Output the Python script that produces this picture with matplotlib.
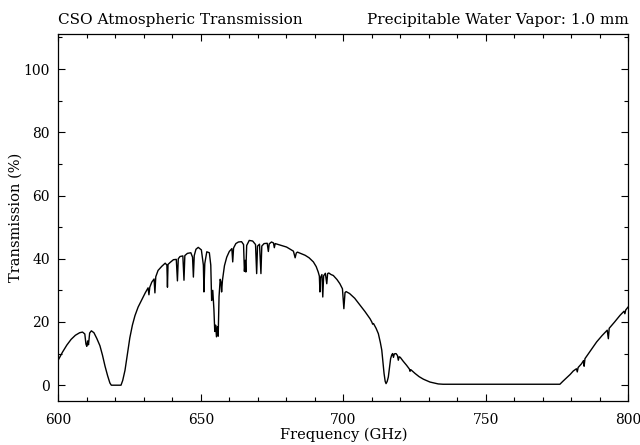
import matplotlib
matplotlib.use("Agg")
import matplotlib.pyplot as plt
from matplotlib.ticker import MultipleLocator

# Atmospheric transmission spectrum, 600-800 GHz, PWV = 1.0 mm
freq_ghz = [
    600.0, 601.5, 603.0, 604.5, 606.0, 607.5, 608.5, 609.3, 609.7, 610.0,
    610.3, 610.6, 611.0, 611.6, 612.5, 613.5, 614.6, 615.5, 616.4, 617.3,
    618.1, 618.6, 622.0, 622.6, 623.4, 624.2, 625.1, 626.0, 626.9, 628.0,
    629.3, 630.5, 631.5, 631.8, 632.1, 632.8, 633.6, 633.9, 634.2, 635.0,
    636.3, 637.5, 638.1, 638.3, 638.5, 639.2, 640.4, 641.4, 641.8, 642.1,
    642.7, 643.7, 644.1, 644.4, 645.3, 646.5, 647.1, 647.4, 647.7, 648.3,
    649.1, 650.2, 650.9, 651.1, 651.4, 652.1, 653.0, 653.5, 653.8, 654.2,
    654.6, 654.9, 655.2, 655.5, 655.8, 656.1, 656.4, 656.8, 657.1, 657.3,
    657.6, 658.3, 659.1, 660.0, 660.9, 661.2, 661.5, 662.3, 663.2, 664.3,
    665.0, 665.3, 665.6, 665.8, 666.1, 667.0, 668.2, 669.2, 669.6, 669.9,
    670.6, 671.1, 671.4, 672.2, 673.3, 673.7, 674.0, 674.8, 675.5, 675.8,
    676.1, 677.2, 680.1, 682.5, 683.1, 683.5, 683.9, 686.6, 688.0, 689.5,
    690.5, 691.2, 691.6, 691.8, 692.0, 692.5, 692.8, 693.1, 693.7, 694.2,
    694.5, 694.9, 695.7, 696.5, 697.8, 698.8, 699.7, 700.2, 700.6, 701.0,
    702.2, 704.0, 705.9, 707.6, 709.4, 710.0, 710.3, 710.6, 711.5, 712.3,
    713.0, 713.5, 714.0, 714.3, 714.7, 715.0, 715.4, 715.8, 716.2, 716.6,
    717.0, 717.3, 717.6, 717.9, 718.5, 719.0, 719.3, 719.6, 720.0, 721.0,
    722.2, 723.2, 723.4, 723.7, 725.2, 726.6, 728.1, 730.4, 733.3, 735.0,
    776.0, 777.0, 778.4, 779.6, 780.7, 781.8, 782.1, 782.4, 783.6, 784.3,
    784.5, 784.8, 786.9, 788.9, 790.8, 792.6, 793.0, 793.3, 795.2, 797.1,
    798.5, 798.8, 799.1, 800.0,
]
transmission_pct = [
    8.0, 10.5, 12.7, 14.5, 15.8, 16.6, 16.8, 16.2, 13.0, 12.3,
    14.0, 12.8, 16.5, 17.2, 16.6, 14.8, 12.5, 9.5, 6.0, 3.0,
    0.7, 0.0, 0.0, 1.5, 4.7, 9.5, 15.0, 19.0, 22.0, 24.7,
    27.0, 29.2, 30.8, 28.6, 31.0, 32.6, 33.6, 29.2, 34.3, 36.3,
    37.6, 38.6, 38.0, 31.0, 38.2, 38.8, 39.7, 39.8, 33.0, 40.0,
    40.7, 40.9, 33.2, 41.0, 41.7, 41.9, 40.5, 34.2, 41.0, 43.0,
    43.6, 42.8, 38.0, 29.5, 38.5, 42.2, 41.9, 38.0, 26.8, 30.0,
    24.0, 17.0, 19.0, 15.3, 18.5, 15.5, 28.0, 33.5, 32.5, 29.5,
    33.2, 37.8, 40.5, 42.3, 43.2, 39.0, 43.4, 44.8, 45.3, 45.4,
    44.5, 36.0, 39.5, 35.8, 44.2, 45.8, 45.6, 44.5, 35.3, 44.0,
    44.6, 35.3, 44.0, 44.8, 44.9, 42.3, 44.7, 45.3, 45.0, 43.5,
    44.8, 44.5, 43.7, 42.4, 40.3, 41.8, 42.1, 41.1, 40.3, 39.0,
    37.5, 35.8, 34.5, 29.5, 34.0, 35.0, 27.9, 34.6, 35.4, 32.1,
    35.3, 35.5, 35.0, 34.7, 33.4, 32.1, 30.5, 24.2, 29.3, 29.6,
    29.0, 27.5, 25.3, 23.3, 21.0, 20.0, 19.3, 19.5, 18.0, 16.3,
    13.5, 11.1, 6.5, 3.7, 1.2, 0.5, 1.2, 2.6, 5.5, 8.4,
    9.6, 10.0, 8.8, 9.9, 10.0, 9.4, 7.9, 9.0, 8.8, 7.6,
    6.3, 5.1, 4.4, 4.9, 3.7, 2.7, 1.9, 1.0, 0.4, 0.3,
    0.3, 1.2, 2.4, 3.4, 4.5, 5.2, 4.2, 5.6, 6.8, 7.8,
    6.0, 8.4, 11.1, 13.7, 15.7, 17.4, 14.7, 18.0, 20.0, 22.1,
    23.4, 22.6, 23.8, 24.8,
]

x_ticks = [600, 650, 700, 750, 800]
y_ticks = [0, 20, 40, 60, 80, 100]

plt.rcParams["font.family"] = ["DejaVu Serif"]

fig = plt.figure(figsize=(6.4, 4.45), dpi=100)
ax_left, ax_right, ax_top, ax_bottom = 58.3 / 640, 628.3 / 640, 1 - 34.3 / 445, 1 - 401 / 445
ax = fig.add_axes([ax_left, ax_bottom, ax_right - ax_left, ax_top - ax_bottom])

ax.plot(freq_ghz, transmission_pct, color="black", linewidth=1.0)

ax.set_xlim(600, 800)
ax.set_ylim(-5, 111)
ax.set_xticks(x_ticks)
ax.set_yticks(y_ticks)
ax.xaxis.set_minor_locator(MultipleLocator(10))
ax.yaxis.set_minor_locator(MultipleLocator(10))
ax.tick_params(which="both", direction="in", top=True, right=True,
               width=0.8, labelsize=10)
ax.tick_params(axis="x", which="major", pad=9)
ax.tick_params(axis="y", which="major", pad=6)
ax.tick_params(which="major", length=5)
ax.tick_params(which="minor", length=3)
for s in ax.spines.values():
    s.set_linewidth(0.9)

ax.set_xlabel("Frequency (GHz)", fontsize=10.5, labelpad=0)
ax.set_ylabel("Transmission (%)", fontsize=10.5, labelpad=1)

fig.text(ax_left, 1 - 23.7 / 445, "CSO Atmospheric Transmission", fontsize=11,
         ha="left", va="baseline")
fig.text(ax_right, 1 - 23.7 / 445, "Precipitable Water Vapor: 1.0 mm", fontsize=11,
         ha="right", va="baseline")

fig.savefig("out.png", dpi=100)
